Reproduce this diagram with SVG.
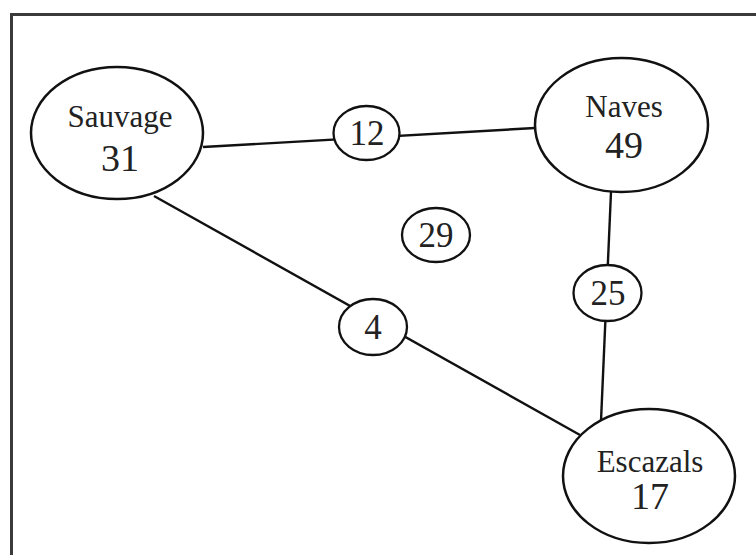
<svg xmlns="http://www.w3.org/2000/svg" width="756" height="555" viewBox="0 0 756 555">
<style>
.frame{fill:none;stroke:#3a3a3a;stroke-width:3}
.edge{stroke:#111;stroke-width:2.4;fill:none}
.node{fill:#fff;stroke:#111;stroke-width:2.5}
.w{fill:#fff;stroke:#111;stroke-width:2.3}
.name{font-size:31px;fill:#222;text-anchor:middle}
.num{font-size:38px;fill:#222;text-anchor:middle}
.wt{font-size:35px;fill:#222;text-anchor:middle}
</style>
<rect width="756" height="555" fill="#fff"/>
<rect class="frame" x="11.5" y="14.5" width="770" height="570"/>
<g id="connectors">
<line class="edge" x1="203" y1="147" x2="535" y2="128"/>
<line class="edge" x1="154" y1="196" x2="580" y2="435"/>
<line class="edge" x1="611" y1="192" x2="601" y2="421"/>
</g>
<g font-family="Liberation Serif, Times New Roman, DejaVu Serif, serif">
<g id="sauvage"><ellipse class="node" cx="117" cy="133" rx="86" ry="66"/><text class="name" x="120" y="127">Sauvage</text><text class="num" x="120" y="171">31</text></g>
<g id="naves"><ellipse class="node" cx="621.5" cy="125" rx="86.5" ry="67"/><text class="name" x="624" y="117">Naves</text><text class="num" x="624" y="158">49</text></g>
<g id="escazals"><ellipse class="node" cx="649" cy="476" rx="86" ry="67"/><text class="name" x="650" y="472">Escazals</text><text class="num" x="650" y="509">17</text></g>
<g id="w12"><ellipse class="w" cx="366.5" cy="133" rx="33" ry="27"/><text class="wt" x="367" y="145">12</text></g>
<g id="w29"><ellipse class="w" cx="436" cy="235" rx="34" ry="27"/><text class="wt" x="436" y="247">29</text></g>
<g id="w25"><ellipse class="w" cx="607.5" cy="293" rx="34" ry="28"/><text class="wt" x="608" y="305">25</text></g>
<g id="w4"><ellipse class="w" cx="373" cy="327" rx="34" ry="28"/><text class="wt" x="373" y="339">4</text></g>
</g>
</svg>
